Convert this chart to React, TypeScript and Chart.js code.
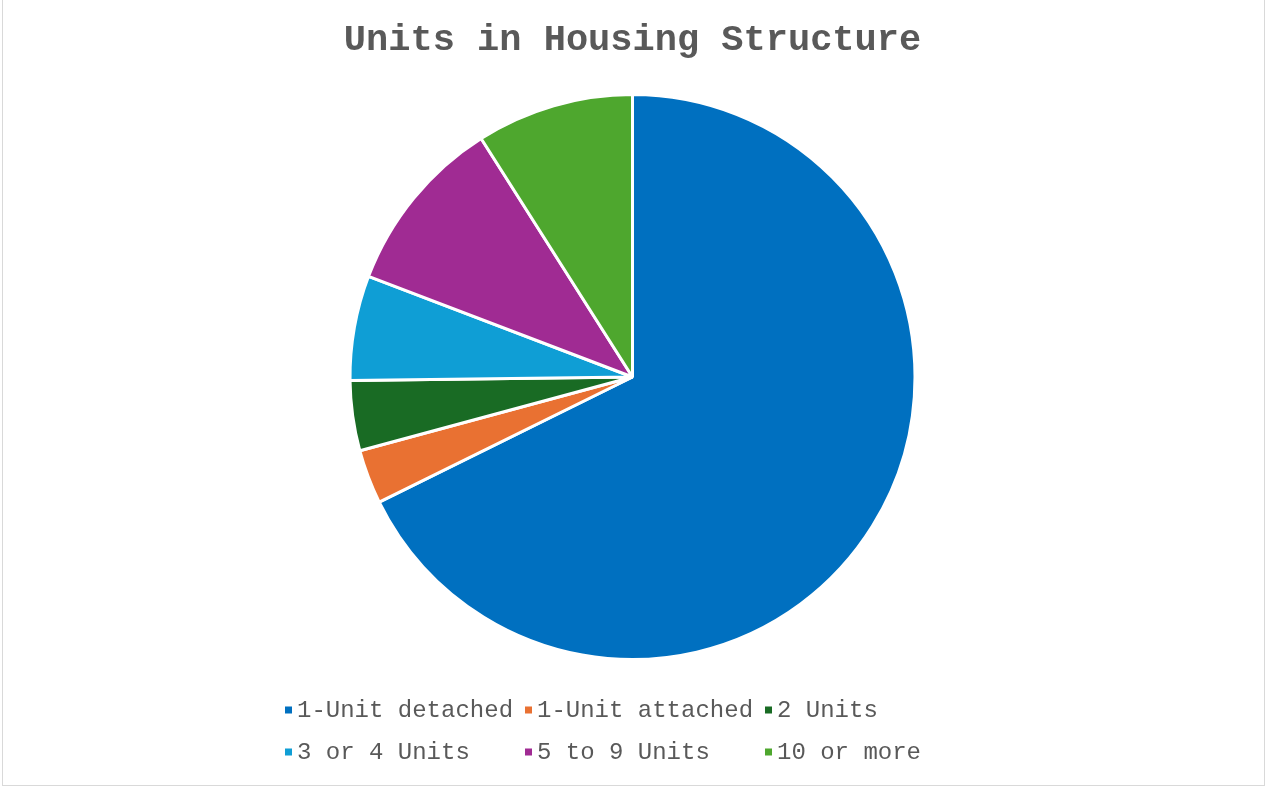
import React, { useEffect, useRef } from "react";
import { Chart, registerables } from "chart.js";

Chart.register(...registerables);

const TITLE = "Units in Housing Structure";
const categories = [
  "1-Unit detached",
  "1-Unit attached",
  "2 Units",
  "3 or 4 Units",
  "5 to 9 Units",
  "10 or more",
];
const shares = [67.7, 3.1, 4.0, 6.0, 10.2, 9.0];
const sliceColors = ["#0070C0", "#E97132", "#196B24", "#0F9ED5", "#A02B93", "#4EA72E"];

const TEXT_COLOR = "#595959";
const MONO = "'Liberation Mono', 'Courier New', 'DejaVu Sans Mono', monospace";

const gridLegend = {
  id: "gridLegend",
  afterDraw(chart: any) {
    const ctx = chart.ctx;
    const cols = 3;
    const colStride = 240;
    const rowStride = 42;
    const startX = 285;
    const startY = 710;
    ctx.save();
    ctx.font = `24px ${MONO}`;
    ctx.textBaseline = "middle";
    ctx.textAlign = "left";
    categories.forEach((label, i) => {
      const c = i % cols;
      const r = Math.floor(i / cols);
      const x = startX + c * colStride;
      const y = startY + r * rowStride;
      ctx.fillStyle = sliceColors[i];
      ctx.fillRect(x, y - 3.5, 7, 7);
      ctx.fillStyle = TEXT_COLOR;
      ctx.fillText(label, x + 12, y + 1);
    });
    ctx.restore();
  },
};

export default function App() {
  const canvasRef = useRef<HTMLCanvasElement | null>(null);

  useEffect(() => {
    if (!canvasRef.current) return;
    const chart = new Chart(canvasRef.current, {
      type: "pie",
      data: {
        labels: categories,
        datasets: [
          {
            data: shares,
            backgroundColor: sliceColors,
            borderColor: "#ffffff",
            borderWidth: 3,
          },
        ],
      },
      options: {
        responsive: false,
        animation: false,
        layout: { padding: { top: 18, bottom: 125, left: 0, right: 0 } },
        plugins: {
          legend: { display: false },
          tooltip: { enabled: false },
          title: {
            display: true,
            text: TITLE,
            color: TEXT_COLOR,
            font: { family: MONO, size: 37, weight: "bold", lineHeight: 1.2 },
            padding: { top: 0, bottom: 30.6 },
          },
        },
      },
      plugins: [gridLegend],
    });
    return () => chart.destroy();
  }, []);

  return (
    <div style={{ position: "fixed", left: 0, top: 0, width: 1265, height: 786, background: "#ffffff" }}>
      <canvas ref={canvasRef} width={1265} height={786} style={{ position: "absolute", left: 0, top: 0 }} />
      <div
        style={{
          position: "absolute",
          left: 2,
          top: -1,
          width: 1263,
          height: 787,
          boxSizing: "border-box",
          border: "1px solid #d9d9d9",
          pointerEvents: "none",
        }}
      />
    </div>
  );
}
